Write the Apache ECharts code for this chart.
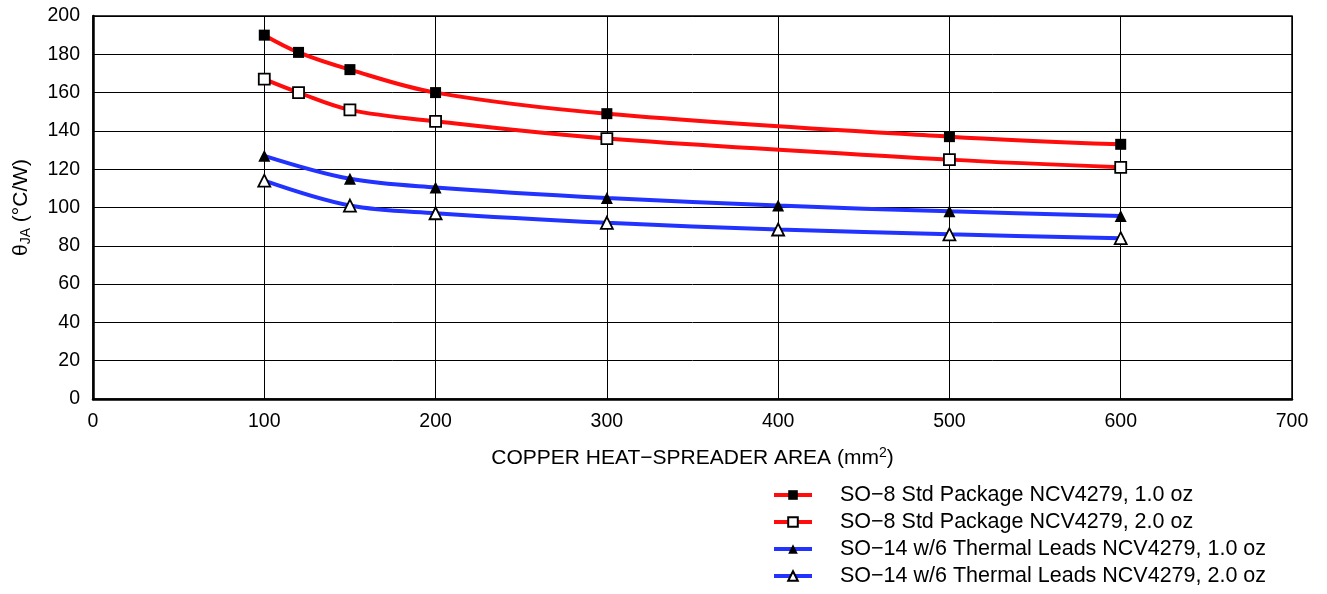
<!DOCTYPE html>
<html>
<head>
<meta charset="utf-8">
<script src="https://cdn.jsdelivr.net/npm/echarts@6/dist/echarts.min.js"></script>
<style>html,body{margin:0;padding:0;background:#fff}#c{width:1327px;height:594px}</style>
</head>
<body>
<div id="c"></div>
<script>
const seriesNames = [
  'SO\u22128 Std Package NCV4279, 1.0 oz',
  'SO\u22128 Std Package NCV4279, 2.0 oz',
  'SO\u221214 w/6 Thermal Leads NCV4279, 1.0 oz',
  'SO\u221214 w/6 Thermal Leads NCV4279, 2.0 oz'
];
const so8X = [100, 120, 150, 200, 300, 500, 600];
const so8_1oz = [190, 181, 172, 160, 149, 137, 133];
const so8_2oz = [167, 160, 151, 145, 136, 125, 121];
const so14X = [100, 150, 200, 300, 400, 500, 600];
const so14_1oz = [127, 115, 110.5, 105, 101, 98, 95.5];
const so14_2oz = [114, 101, 97, 92, 88.5, 86, 84];
const xTicks = [0, 100, 200, 300, 400, 500, 600, 700];
const yTicks = [0, 20, 40, 60, 80, 100, 120, 140, 160, 180, 200];

const RED = '#ff0d0d', BLUE = '#2233ff';
const pair = (xs, ys) => xs.map((x, i) => [x, ys[i]]);
const font = 'Liberation Sans, Arial, Helvetica, sans-serif';

function mk(name, xs, ys, color, symbol, filled, size) {
  return {
    name, type: 'line', data: pair(xs, ys), smooth: 0.35,
    symbol, symbolSize: size, showAllSymbol: true,
    lineStyle: { color, width: 4 },
    itemStyle: { color: filled ? '#000' : '#fff', borderColor: '#000', borderWidth: filled ? 0 : 1.8 },
    z: 3
  };
}

const chart = echarts.init(document.getElementById('c'), null, { renderer: 'canvas' });
chart.setOption({
  animation: false,
  backgroundColor: '#fff',
  textStyle: { fontFamily: font },
  grid: { left: 93, right: 35, top: 16, bottom: 195, show: true, borderColor: '#000', borderWidth: 1.5, backgroundColor: 'transparent' },
  xAxis: {
    type: 'value', min: xTicks[0], max: xTicks[xTicks.length - 1], interval: 100,
    axisLine: { show: true, lineStyle: { color: '#000', width: 2.5 } },
    axisTick: { show: false },
    splitLine: { show: true, lineStyle: { color: '#000', width: 1 } },
    axisLabel: { color: '#000', fontSize: 19.5, margin: 13, fontFamily: font },
    name: '{t|COPPER HEAT\u2212SPREADER AREA (mm}{s|2}{t|)}',
    nameLocation: 'middle', nameGap: 47,
    nameTextStyle: { rich: { t: { fontSize: 21, color: '#000', fontFamily: font }, s: { fontSize: 14, color: '#000', fontFamily: font, verticalAlign: 'top', padding: [0, 0, 10, 0] } } }
  },
  yAxis: {
    type: 'value', min: yTicks[0], max: yTicks[yTicks.length - 1], interval: 20,
    axisLine: { show: true, lineStyle: { color: '#000', width: 2.5 } },
    axisTick: { show: false },
    splitLine: { show: true, lineStyle: { color: '#000', width: 1 } },
    axisLabel: { color: '#000', fontSize: 19.5, margin: 13, fontFamily: font },
    name: '{t|\u03b8}{s|JA}{t| (\u00b0C/W)}',
    nameLocation: 'middle', nameGap: 60, nameRotate: 90,
    nameTextStyle: { rich: { t: { fontSize: 21, color: '#000', fontFamily: font }, s: { fontSize: 14, color: '#000', fontFamily: font, padding: [10, 0, 0, 0] } } }
  },
  legend: {
    orient: 'vertical', left: 772, top: 484, height: 130, itemGap: 5,
    itemWidth: 38, itemHeight: 12, padding: 0,
    lineStyle: { width: 4 },
    textStyle: { color: '#000', fontSize: 21.5, lineHeight: 22, fontFamily: font, padding: [0, 0, 0, 23] },
    data: seriesNames
  },
  series: [
    mk(seriesNames[0], so8X, so8_1oz, RED, 'rect', true, 11),
    mk(seriesNames[1], so8X, so8_2oz, RED, 'rect', false, 11),
    mk(seriesNames[2], so14X, so14_1oz, BLUE, 'triangle', true, 12),
    mk(seriesNames[3], so14X, so14_2oz, BLUE, 'triangle', false, 12)
  ]
});
</script>
</body>
</html>
